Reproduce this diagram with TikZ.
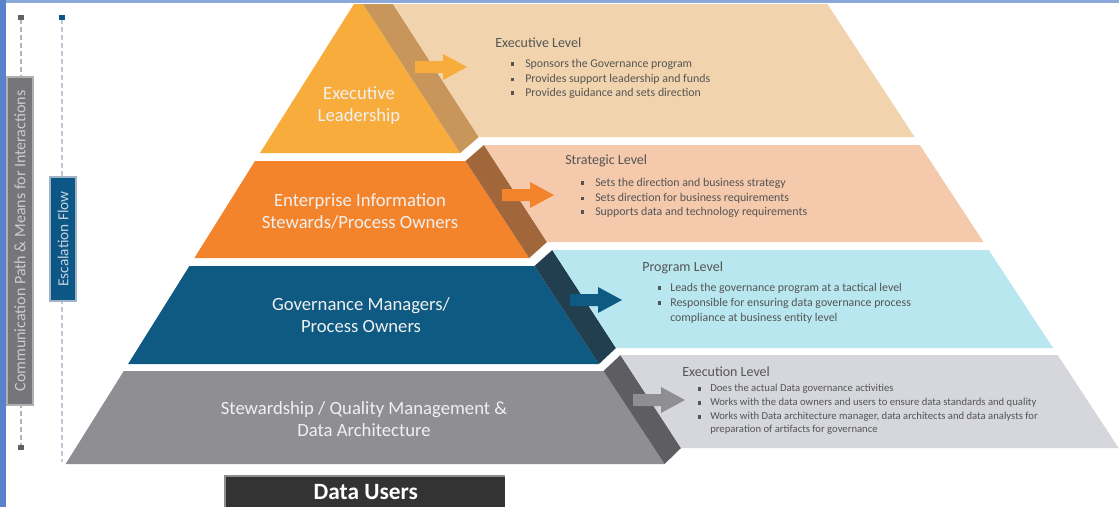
\documentclass[tikz,border=0pt]{standalone}
\usepackage{fontspec}
\setmainfont{Carlito}
\usetikzlibrary{arrows.meta}
\definecolor{tAfront}{HTML}{F8AC3B}
\definecolor{tAband}{HTML}{C8965A}
\definecolor{tApanel}{HTML}{F1D4AD}
\definecolor{tBfront}{HTML}{F4842B}
\definecolor{tBband}{HTML}{A2663B}
\definecolor{tBpanel}{HTML}{F4C9AC}
\definecolor{tCfront}{HTML}{0F5A83}
\definecolor{tCband}{HTML}{213F4F}
\definecolor{tCpanel}{HTML}{B8E7EF}
\definecolor{tDfront}{HTML}{8F8E93}
\definecolor{tDband}{HTML}{5E5E62}
\definecolor{tDpanel}{HTML}{D6D7DC}
\definecolor{txtgrey}{HTML}{555555}
\definecolor{edgeblue}{HTML}{5A82CC}
\definecolor{greybox}{HTML}{76767A}
\definecolor{greyboxedge}{HTML}{B0B0B0}
\definecolor{bluebox}{HTML}{0D5786}
\definecolor{blueboxedge}{HTML}{A0B4C6}
\definecolor{datausers}{HTML}{333333}
\newcommand{\bsq}{\rule[0.25ex]{2.4pt}{2.4pt}}
\tikzset{
  frontlabel/.style={text=white!94!black, font=\fontsize{14}{16.5}\selectfont, align=center, inner sep=0pt},
  paneltitle/.style={anchor=west, text=txtgrey, inner sep=0pt, font=\fontsize{10.5}{12}\selectfont},
  bline/.style={anchor=west, text=txtgrey, inner sep=0pt, font=\fontsize{8.9}{10}\selectfont},
  blinesmall/.style={anchor=west, text=txtgrey, inner sep=0pt, font=\fontsize{8}{9}\selectfont},
  barrow/.pic={\path[pic actions] (0,-6) -- (28,-6) -- (28,-13) -- (52,0) -- (28,13) -- (28,6) -- (0,6) -- cycle;},
  sidebox/.style={inner sep=0pt, line width=1.5pt, rotate=90, anchor=center},
}
\begin{document}
\begin{tikzpicture}[x=0.75pt,y=-0.75pt]
\useasboundingbox (0,0) rectangle (1119,507);
\fill[white] (0,0) rectangle (1119,507);
% screenshot border
\fill[edgeblue!70!white] (0,0) rectangle (1119,3);
\fill[edgeblue] (0,0) rectangle (6,507);

% tier 1
\fill[tAfront] (354,4) -- (363,4) -- (460.2,153) -- (260,153) -- cycle;
\fill[tAband] (363,4) -- (393,4) -- (478.8,137) -- (460.2,153) -- cycle;
\fill[tApanel] (393,4) -- (827.3,4) -- (914.6,137) -- (478.8,137) -- cycle;
% tier 2
\fill[tBfront] (255,161) -- (465.5,161) -- (529.2,258) -- (194.4,258) -- cycle;
\fill[tBband] (465.5,161) -- (484,145) -- (547,242) -- (529.2,258) -- cycle;
\fill[tBpanel] (484,145) -- (919.8,145) -- (983.5,242) -- (547,242) -- cycle;
% tier 3
\fill[tCfront] (189.4,266) -- (534.5,266) -- (598.9,364) -- (128.1,364) -- cycle;
\fill[tCband] (534.5,266) -- (552.3,250) -- (616,348) -- (598.9,364) -- cycle;
\fill[tCpanel] (552.3,250) -- (988.7,250) -- (1053,348) -- (616,348) -- cycle;
% tier 4
\fill[tDfront] (123.8,371) -- (603.5,371) -- (664.6,464) -- (65.6,464) -- cycle;
\fill[tDband] (603.5,371) -- (620.5,355) -- (681,448) -- (664.6,464) -- cycle;
\fill[tDpanel] (620.5,355) -- (1057.6,355) -- (1118.6,448) -- (681,448) -- cycle;

% arrows
\pic[fill=tAfront] at (415,67) {barrow};
\pic[fill=tBfront] at (502,195) {barrow};
\pic[fill=tCfront] at (570,300) {barrow};
\pic[fill=tDfront] at (633,400) {barrow};

% front labels
\node[frontlabel] (lvA) at (359,106) {Executive\\Leadership};
\node[frontlabel] (lvB) at (360,211) {Enterprise Information\\Stewards/Process Owners};
\node[frontlabel] (lvC) at (361,315) {Governance Managers/\\Process Owners};
\node[frontlabel] (lvD) at (364,419) {Stewardship / Quality Management \&\\Data Architecture};

% panel 1
\node[paneltitle] (pA) at (495,43) {Executive Level};
\node[bline] (pA1) at (511,64) {\makebox[10.5pt][l]{\bsq}Sponsors the Governance program};
\node[bline] (pA2) at (511,79) {\makebox[10.5pt][l]{\bsq}Provides support leadership and funds};
\node[bline] (pA3) at (511,93) {\makebox[10.5pt][l]{\bsq}Provides guidance and sets direction};
% panel 2
\node[paneltitle] (pB) at (565,161) {Strategic Level};
\node[bline] (pB1) at (581,183) {\makebox[10.5pt][l]{\bsq}Sets the direction and business strategy};
\node[bline] (pB2) at (581,198) {\makebox[10.5pt][l]{\bsq}Sets direction for business requirements};
\node[bline] (pB3) at (581,212) {\makebox[10.5pt][l]{\bsq}Supports data and technology requirements};
% panel 3
\node[paneltitle] (pC) at (642,268) {Program Level};
\node[bline] (pC1) at (658,288) {\makebox[9pt][l]{\bsq}Leads the governance program at a tactical level};
\node[bline] (pC2) at (658,303) {\makebox[9pt][l]{\bsq}Responsible for ensuring data governance process};
\node[bline] (pC3) at (658,318) {\makebox[9pt][l]{}compliance at business entity level};
% panel 4
\node[paneltitle] (pD) at (682,372) {Execution Level};
\node[blinesmall] (pD1) at (698,389) {\makebox[9pt][l]{\bsq}Does the actual Data governance activities};
\node[blinesmall] (pD2) at (698,403) {\makebox[9pt][l]{\bsq}Works with the data owners and users to ensure data standards and quality};
\node[blinesmall] (pD3) at (698,417) {\makebox[9pt][l]{\bsq}Works with Data architecture manager, data architects and data analysts for};
\node[blinesmall] (pD4) at (698,430) {\makebox[9pt][l]{}preparation of artifacts for governance};

% left side lines
\coordinate (gTop) at (21,15);
\coordinate (gBot) at (21,450);
\coordinate (bTop) at (62,15);
\coordinate (bBot) at (62,462);
\draw[black!30, line width=2pt, dash pattern=on 4pt off 2pt, {Square[length=4pt,width=5pt,color=black!62,fill=black!62]}-{Square[length=4pt,width=5pt,color=black!62,fill=black!62]}] (gTop) -- (gBot);
\draw[blueboxedge!70!white, line width=2pt, dash pattern=on 4pt off 2pt, {Square[length=4pt,width=5pt,color=bluebox,fill=bluebox]}-] (bTop) -- (bBot);

\node[sidebox, fill=greybox, draw=greyboxedge, minimum width=328*0.75pt, minimum height=26*0.75pt, text=white!80!black, font=\fontsize{12}{13}\selectfont] (comm) at (20,241) {Communication Path \& Means for Interactions};
\node[sidebox, fill=bluebox, draw=blueboxedge, minimum width=124*0.75pt, minimum height=26*0.75pt, text=blueboxedge!60!white, font=\fontsize{11.5}{12}\selectfont] (esc) at (63,239) {Escalation Flow};

% data users
\fill[black!45] (224,475) rectangle (505,507);
\node[fill=datausers, minimum width=279*0.75pt, minimum height=30*0.75pt, anchor=north west, inner sep=0pt, text=white, font=\bfseries\fontsize{17.5}{19}\selectfont] (du) at (226,477) {Data Users};
\end{tikzpicture}
\end{document}
